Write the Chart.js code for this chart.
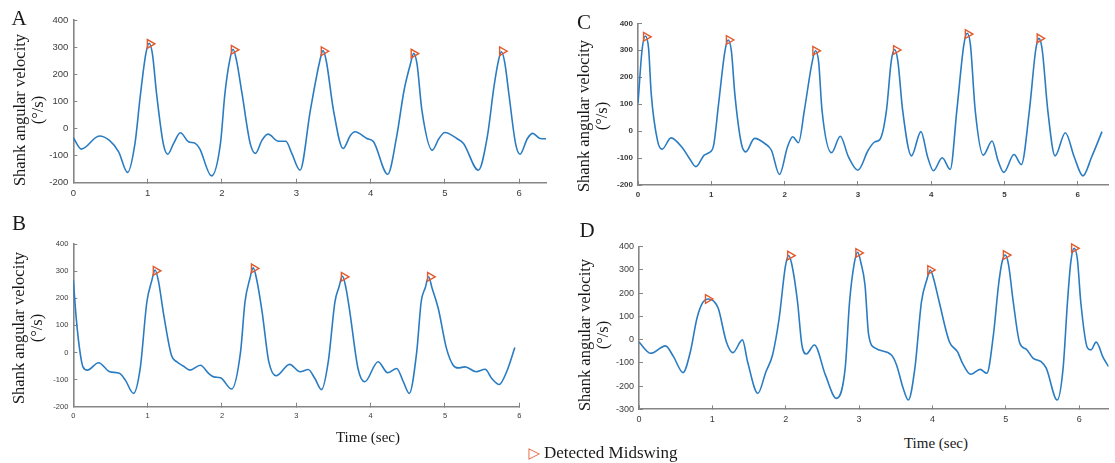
<!DOCTYPE html>
<html>
<head>
<meta charset="utf-8">
<script src="https://cdn.jsdelivr.net/npm/chart.js@4/dist/chart.umd.min.js"></script>
<style>
  body { margin: 0; background: #fff; }
  #fig { position: relative; width: 1115px; height: 463px; overflow: hidden; font-family: "Liberation Serif", "DejaVu Serif", serif; color: #1a1a1a; }
  canvas { position: absolute; }
  .c { position: absolute; transform: translate(-50%, -50%); white-space: nowrap; }
  .letter { font-size: 21px; }
  .ytitle { position: absolute; transform: translate(-50%, -50%) rotate(-90deg); white-space: nowrap; text-align: center; font-size: 16.5px; line-height: 18px; }
  .xtitle { font-size: 15px; }
  .legend { font-size: 17px; }
  .legend .tri { color: #e2592c; font-family: "DejaVu Sans", sans-serif; font-size: 15px; margin-right: 4px; }
</style>
</head>
<body>
<div id="fig">
  <canvas id="chart-a" width="557" height="215" style="left:0;top:0"></canvas>
  <canvas id="chart-c" width="558" height="215" style="left:557px;top:0"></canvas>
  <canvas id="chart-b" width="557" height="215" style="left:0;top:215px"></canvas>
  <canvas id="chart-d" width="558" height="215" style="left:557px;top:215px"></canvas>

  <div class="c letter" style="left:19px;top:18px">A</div>
  <div class="c letter" style="left:584px;top:22px">C</div>
  <div class="c letter" style="left:19px;top:223px">B</div>
  <div class="c letter" style="left:587px;top:230px">D</div>

  <div class="ytitle" style="left:29px;top:110px">Shank angular velocity<br>(°/s)</div>
  <div class="ytitle" style="left:593px;top:116px">Shank angular velocity<br>(°/s)</div>
  <div class="ytitle" style="left:28px;top:328px">Shank angular velocity<br>(°/s)</div>
  <div class="ytitle" style="left:594px;top:335px">Shank angular velocity<br>(°/s)</div>

  <div class="c xtitle" style="left:368px;top:437px">Time (sec)</div>
  <div class="c xtitle" style="left:936px;top:443px">Time (sec)</div>

  <div class="c legend" style="left:603px;top:453px"><span class="tri">▷</span>Detected Midswing</div>
</div>

<script>
// colours
const LINE_COLOR = "#2a7cc2";
const MARK_COLOR = "#e2592c";
const AXIS_COLOR = "#858585";
const TICK_COLOR = "#3a3a3a";

// tick values
const xTicks = [0, 1, 2, 3, 4, 5, 6];
const yTicks = [-200, -100, 0, 100, 200, 300, 400];
const yTicksD = [-300, -200, -100, 0, 100, 200, 300, 400];

// A
const timeA = [0, 0.11, 0.35, 0.49, 0.61, 0.73, 0.83, 0.90, 0.975, 1.02, 1.065, 1.12, 1.21, 1.27, 1.35, 1.44, 1.55, 1.64, 1.70, 1.86,
  1.98, 2.04, 2.105, 2.15, 2.195, 2.27, 2.38, 2.45, 2.54, 2.62, 2.76, 2.86, 2.94, 3.05, 3.19, 3.315, 3.36, 3.405, 3.50, 3.63,
  3.73, 3.79, 3.95, 4.04, 4.23, 4.35, 4.45, 4.535, 4.58, 4.625, 4.69, 4.83, 4.92, 5.00, 5.16, 5.25, 5.45, 5.57, 5.66, 5.715,
  5.76, 5.805, 5.86, 5.95, 6.01, 6.11, 6.18, 6.28, 6.36];
const velA = [-34, -76, -28, -45, -86, -162, -55, 117, 274, 314, 274, 129, -55, -95, -55, -16, -49, -55, -74, -175,
  -55, 129, 252, 292, 252, 129, -55, -92, -43, -21, -47, -47, -92, -154, 68, 247, 287, 247, 68, -74,
  -25, -12, -37, -49, -169, -31, 140, 237, 277, 237, 68, -80, -37, -15, -37, -55, -154, -31, 154, 243,
  283, 243, 129, -55, -95, -37, -18, -37, -38];
const peakTimeA = [1.03, 2.16, 3.37, 4.58, 5.77];
const peakVelA = [312, 290, 285, 276, 285];

// B
const timeB = [0, 0.04, 0.09, 0.13, 0.19, 0.34, 0.49, 0.62, 0.70, 0.81, 0.90, 0.99, 1.055, 1.10, 1.145, 1.21, 1.32, 1.39, 1.48, 1.57,
  1.71, 1.82, 1.89, 1.98, 2.13, 2.25, 2.31, 2.375, 2.42, 2.465, 2.54, 2.63, 2.73, 2.91, 3.05, 3.16, 3.25, 3.34, 3.43, 3.52,
  3.575, 3.62, 3.665, 3.72, 3.83, 3.92, 4.10, 4.23, 4.35, 4.44, 4.52, 4.62, 4.68, 4.735, 4.78, 4.825, 4.91, 5.02, 5.11, 5.18,
  5.27, 5.42, 5.54, 5.63, 5.73, 5.83, 5.94];
const velB = [267, 125, 2, -53, -65, -38, -71, -77, -102, -151, -59, 187, 264, 304, 264, 150, -10, -34, -50, -65,
  -47, -77, -90, -93, -135, 2, 187, 272, 312, 272, 150, -34, -86, -44, -71, -63, -96, -137, -34, 187,
  242, 282, 242, 150, -59, -108, -34, -75, -59, -108, -151, 2, 187, 239, 279, 239, 162, 15, -47, -57,
  -53, -71, -62, -96, -118, -71, 18];
const peakTimeB = [1.11, 2.43, 3.64, 4.80];
const peakVelB = [301, 310, 279, 279];

// C
const timeC = [0, 0.055, 0.10, 0.145, 0.18, 0.27, 0.33, 0.45, 0.61, 0.70, 0.79, 0.90, 0.97, 1.03, 1.10, 1.185, 1.23, 1.275, 1.32, 1.41,
  1.47, 1.59, 1.73, 1.82, 1.93, 2.04, 2.11, 2.19, 2.27, 2.375, 2.42, 2.465, 2.51, 2.64, 2.76, 2.87, 3.00, 3.14, 3.23, 3.30,
  3.39, 3.455, 3.50, 3.545, 3.61, 3.73, 3.86, 3.95, 4.03, 4.15, 4.26, 4.35, 4.445, 4.49, 4.535, 4.60, 4.71, 4.83, 4.91, 4.99,
  5.13, 5.23, 5.34, 5.425, 5.47, 5.515, 5.59, 5.69, 5.83, 5.95, 6.07, 6.19, 6.33];
const velC = [103, 300, 353, 305, 140, -40, -67, -25, -64, -101, -132, -90, -80, -55, 103, 295, 338, 295, 140, -46,
  -77, -27, -46, -71, -161, -58, -21, -43, 78, 255, 298, 255, 78, -80, -19, -95, -145, -71, -40, -31,
  78, 260, 303, 260, 78, -92, -2, -95, -147, -99, -142, 78, 320, 363, 320, 78, -89, -37, -108, -153,
  -87, -124, 78, 300, 344, 300, 78, -92, -6, -95, -166, -95, -2];
const peakTimeC = [0.11, 1.24, 2.42, 3.52, 4.50, 5.48];
const peakVelC = [350, 338, 298, 301, 360, 344];

// D
const timeD = [0, 0.16, 0.36, 0.47, 0.60, 0.70, 0.79, 0.87, 0.95, 1.02, 1.08, 1.19, 1.28, 1.41, 1.48, 1.62, 1.73, 1.82, 1.91, 1.995,
  2.04, 2.085, 2.16, 2.22, 2.28, 2.39, 2.54, 2.69, 2.81, 2.87, 2.935, 2.98, 3.025, 3.08, 3.13, 3.22, 3.44, 3.51, 3.60, 3.67,
  3.76, 3.85, 3.925, 3.97, 4.015, 4.09, 4.23, 4.34, 4.41, 4.52, 4.65, 4.74, 4.83, 4.90, 4.945, 4.99, 5.035, 5.10, 5.19, 5.28,
  5.37, 5.48, 5.55, 5.70, 5.78, 5.84, 5.885, 5.93, 5.975, 6.02, 6.11, 6.16, 6.23, 6.33, 6.40];
const velD = [-11, -59, -27, -73, -142, -52, 92, 160, 175, 165, 135, -9, -56, -1, -95, -231, -138, -66, 92, 315,
  362, 320, 164, -23, -62, -23, -152, -253, -123, 164, 330, 376, 330, 235, 20, -37, -66, -109, -209, -260,
  -123, 164, 260, 300, 262, 164, -9, -52, -102, -149, -128, -145, 20, 235, 330, 364, 325, 164, -16, -42,
  -80, -95, -123, -260, -123, 164, 335, 393, 345, 164, -34, -44, -11, -80, -116];
const peakTimeD = [0.94, 2.06, 2.99, 3.97, 5.00, 5.93];
const peakVelD = [175, 362, 373, 300, 364, 393];

document.addEventListener("DOMContentLoaded", () => {
  renderPanel("chart-a", {
    t: timeA, v: velA, pt: peakTimeA, pv: peakVelA,
    xMax: 6.36, yMin: -200, yMax: 400, yTickValues: yTicks,
    pad: { left: 0, top: 20, right: 11, bottom: 10 },
    yWidth: 73.3, xHeight: 22.3, fontSize: 9.5, fontWeight: "normal",
  });
  renderPanel("chart-c", {
    t: timeC, v: velC, pt: peakTimeC, pv: peakVelC,
    xMax: 6.42, yMin: -200, yMax: 400, yTickValues: yTicks,
    pad: { left: 0, top: 23.3, right: 0, bottom: 8 },
    yWidth: 81, xHeight: 22, fontSize: 8, fontWeight: "bold",
  });
  renderPanel("chart-b", {
    t: timeB, v: velB, pt: peakTimeB, pv: peakVelB,
    xMax: 6, yMin: -200, yMax: 400, yTickValues: yTicks,
    pad: { left: 0, top: 29, right: 37.7, bottom: 1.3 },
    yWidth: 73.3, xHeight: 22, fontSize: 7.5, fontWeight: "normal",
  });
  renderPanel("chart-d", {
    t: timeD, v: velD, pt: peakTimeD, pv: peakVelD,
    xMax: 6.40, yMin: -300, yMax: 400, yTickValues: yTicksD,
    pad: { left: 0, top: 31.7, right: 0, bottom: 0.7 },
    yWidth: 82, xHeight: 20, fontSize: 9, fontWeight: "normal",
  });
});

/** one subplot: velocity curve + midswing markers */
function renderPanel(canvasId, cfg) {
  const canvas = document.getElementById(canvasId);
  if (!canvas) return;

  const curve = cfg.t.map((t, i) => ({ x: t, y: cfg.v[i] }));
  const peaks = cfg.pt.map((t, i) => ({ x: t, y: cfg.pv[i] }));
  const tickFont = { family: "'Liberation Sans', Arial, sans-serif", size: cfg.fontSize, weight: cfg.fontWeight };

  return new Chart(canvas.getContext("2d"), {
    type: "line",
    data: {
      datasets: [
        {
          data: peaks,
          showLine: false,
          pointStyle: "triangle",
          pointRotation: 90,
          pointRadius: 5,
          pointBorderWidth: 1.4,
          pointBorderColor: MARK_COLOR,
          pointBackgroundColor: "rgba(0,0,0,0)",
          clip: false,
          order: 0,
        },
        {
          data: curve,
          borderColor: LINE_COLOR,
          borderWidth: 1.6,
          pointRadius: 0,
          cubicInterpolationMode: "monotone",
          fill: false,
          order: 1,
        },
      ],
    },
    options: {
      responsive: false,
      animation: false,
      devicePixelRatio: 1,
      layout: { padding: cfg.pad },
      plugins: {
        legend: { display: false },
        tooltip: { enabled: false },
      },
      scales: {
        x: {
          type: "linear",
          min: 0,
          max: cfg.xMax,
          afterBuildTicks: (s) => { s.ticks = xTicks.map((v) => ({ value: v })); },
          afterFit: (s) => { s.height = cfg.xHeight; },
          ticks: { font: tickFont, color: TICK_COLOR, padding: 9, maxRotation: 0, autoSkip: false },
          grid: { drawOnChartArea: false, tickLength: -4, color: AXIS_COLOR, lineWidth: 1 },
          border: { color: AXIS_COLOR, width: 1.6 },
        },
        y: {
          type: "linear",
          min: cfg.yMin,
          max: cfg.yMax,
          afterBuildTicks: (s) => { s.ticks = cfg.yTickValues.map((v) => ({ value: v })); },
          afterFit: (s) => { s.width = cfg.yWidth; },
          ticks: { font: tickFont, color: TICK_COLOR, padding: 9, autoSkip: false },
          grid: { drawOnChartArea: false, tickLength: -4, color: AXIS_COLOR, lineWidth: 1 },
          border: { color: AXIS_COLOR, width: 1.6 },
        },
      },
    },
  });
}
</script>
</body>
</html>
